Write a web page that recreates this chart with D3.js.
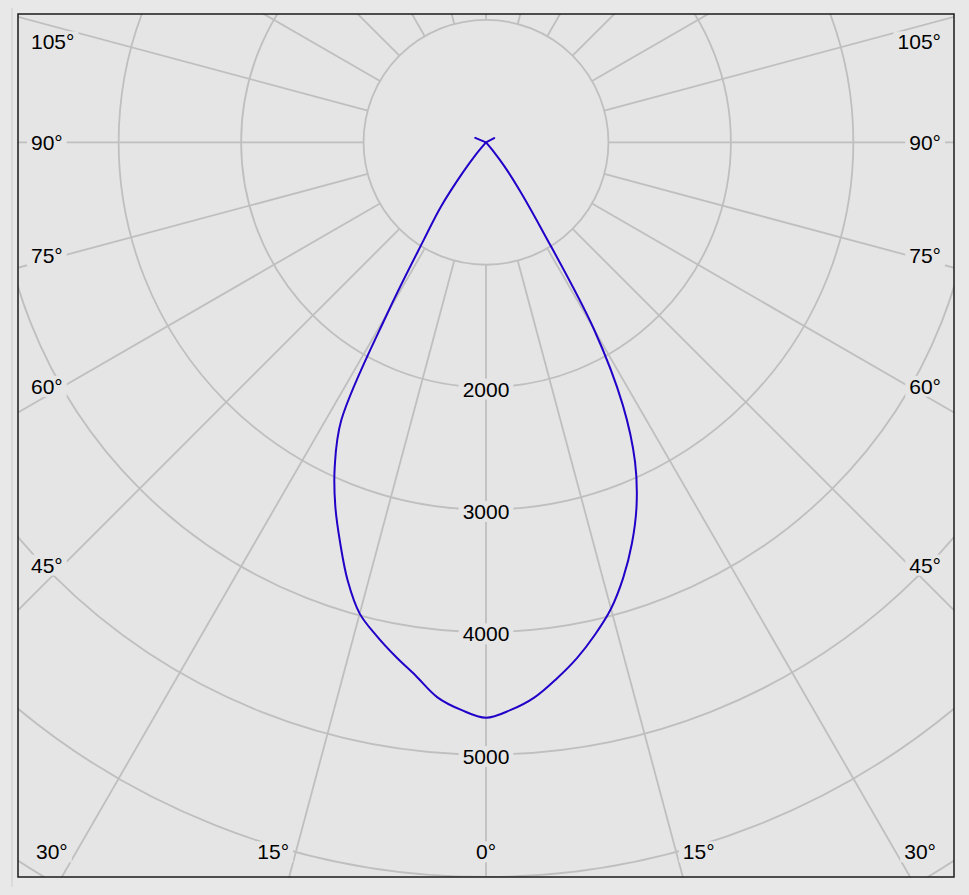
<!DOCTYPE html>
<html><head><meta charset="utf-8">
<script src="https://cdn.jsdelivr.net/npm/d3@7"></script>
<style>html,body{margin:0;padding:0;background:#e8e8e8;}svg{display:block}</style>
</head><body>
<svg id="chart" width="969" height="895"></svg>
<script>
// ---- data ----
const ringValues = [1000, 2000, 3000, 4000, 5000, 6000, 7000, 8000];
const ringLabelValues = [2000, 3000, 4000, 5000];
const spokeAngles = d3.range(0, 360, 15);
const angleLabelAngles = [-105, -90, -75, -60, -45, -30, -15, 0, 15, 30, 45, 60, 75, 90, 105];
// angle in degrees measured from the downward vertical (right side positive)
const angles = [-180, -120, -112.5, -105, -90,
  -42.5, -40, -37.5, -35, -32.5, -30, -27.5, -25, -22.5, -20, -17.5, -15, -12.5, -10, -7.5, -5, -2.5,
  0,
  2.5, 5, 7.5, 10, 12.5, 15, 17.5, 20, 22.5, 25, 27.5, 30, 32.5, 35, 37.5, 40, 42.5,
  90, 110, 117.5, 125, 180];
const intensity = [0, 0, 95, 0, 0,
  0, 120, 310, 640, 950, 1600, 2560, 2923, 3216, 3482, 3755, 3985, 4128, 4262, 4394, 4550, 4640,
  4700,
  4640, 4550, 4418, 4277, 4117, 3944, 3728, 3485, 3213, 2880, 2420, 1765, 870, 480, 250, 80, 0,
  0, 0, 75, 0, 0];

// ---- layout ----
const frame = {x0: 18, y0: 14, x1: 954, y1: 877};
const cx = 486, cy = 142.3;
const plotBg = "#e5e5e5", gridColor = "#bfbfbf", curveColor = "#2200c8";
const fontFamily = "'Liberation Sans', Arial, sans-serif", fontSize = 21;

const r = d3.scaleLinear().domain([0, 1000]).range([0, 122.45]);
const svg = d3.select("#chart");

svg.append("line").attr("x1", 12).attr("x2", 12).attr("y1", 8).attr("y2", 887)
  .attr("stroke", "#cdcdcd").attr("stroke-width", 1);

svg.append("defs").append("clipPath").attr("id", "clip")
  .append("rect").attr("x", frame.x0).attr("y", frame.y0)
  .attr("width", frame.x1 - frame.x0).attr("height", frame.y1 - frame.y0);

svg.append("rect").attr("x", frame.x0).attr("y", frame.y0)
  .attr("width", frame.x1 - frame.x0).attr("height", frame.y1 - frame.y0)
  .attr("fill", plotBg);

const plot = svg.append("g").attr("clip-path", "url(#clip)");
const g = plot.append("g").attr("transform", `translate(${cx},${cy})`);

g.selectAll("circle.ring").data(ringValues).join("circle")
  .attr("class", "ring").attr("r", d => r(d))
  .attr("fill", "none").attr("stroke", gridColor).attr("stroke-width", 1.8);

const rad = d => d * Math.PI / 180;
g.selectAll("line.spoke").data(spokeAngles).join("line")
  .attr("class", "spoke")
  .attr("x1", d => r(ringValues[0]) * Math.sin(rad(d)))
  .attr("y1", d => r(ringValues[0]) * Math.cos(rad(d)))
  .attr("x2", d => r(ringValues[ringValues.length - 1]) * Math.sin(rad(d)))
  .attr("y2", d => r(ringValues[ringValues.length - 1]) * Math.cos(rad(d)))
  .attr("stroke", gridColor).attr("stroke-width", 1.8);

const pts = angles.map((a, i) => [Math.PI - rad(a), r(intensity[i])]);
g.append("path").datum(pts)
  .attr("d", d3.lineRadial().angle(d => d[0]).radius(d => d[1]).curve(d3.curveCatmullRom.alpha(0.5)))
  .attr("fill", "none").attr("stroke", curveColor).attr("stroke-width", 2)
  .attr("stroke-linejoin", "round");

const labelLayer = svg.append("g").attr("clip-path", "url(#clip)");
function addLabel(text, x, y, anchor) {
  const grp = labelLayer.append("g");
  const t = grp.append("text").attr("x", x).attr("y", y).attr("dy", "0.35em")
    .attr("text-anchor", anchor).attr("font-family", fontFamily)
    .attr("font-size", fontSize).attr("fill", "#000").text(text);
  return {grp, t};
}
function addBox(lbl) {
  const b = lbl.t.node().getBBox();
  lbl.grp.insert("rect", "text").attr("x", b.x - 4).attr("y", b.y + 1)
    .attr("width", b.width + 8).attr("height", b.height - 2).attr("fill", plotBg);
}

ringLabelValues.forEach(v => {
  addBox(addLabel(String(v), cx, cy + r(v) + 2, "middle"));
});

const bottomY = 852, sideDist = 423, topY = 42;
const leftX = 31, rightX = 941, cornerLeft = 36, cornerRight = 936;
angleLabelAngles.forEach(a => {
  const th = Math.abs(a), side = Math.sign(a);
  const txt = th + "°";
  let l;
  if (th < 45) {
    if (th === 0) {
      l = addLabel(txt, cx, bottomY, "middle");
    } else {
      const hit = (frame.y1 - cy) * Math.tan(rad(th));
      if (side > 0) {
        l = addLabel(txt, cx + hit, bottomY, "start");
        const w = l.t.node().getComputedTextLength();
        if (cx + hit + w > cornerRight) l.t.attr("x", cornerRight - w);
      } else {
        l = addLabel(txt, cx - hit, bottomY, "end");
        const w = l.t.node().getComputedTextLength();
        if (cx - hit - w < cornerLeft) l.t.attr("x", cornerLeft + w);
      }
    }
  } else {
    const y = Math.max(topY, cy + sideDist * Math.cos(rad(th)) / Math.sin(rad(th)));
    l = side > 0 ? addLabel(txt, rightX, y, "end") : addLabel(txt, leftX, y, "start");
  }
  addBox(l);
});

svg.append("rect").attr("x", frame.x0).attr("y", frame.y0)
  .attr("width", frame.x1 - frame.x0).attr("height", frame.y1 - frame.y0)
  .attr("fill", "none").attr("stroke", "#1a1a1a").attr("stroke-width", 1.5);
</script>
</body></html>
